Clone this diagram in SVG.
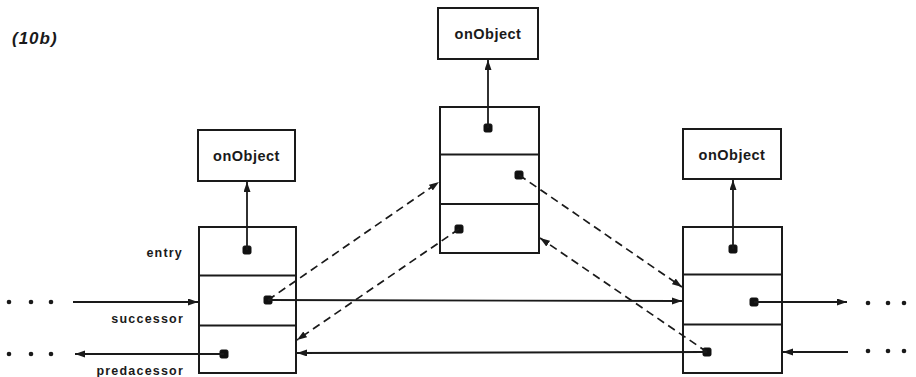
<svg xmlns="http://www.w3.org/2000/svg" width="916" height="377" viewBox="0 0 916 377">
<style>
.box{fill:#fff;stroke:#1a1a1a;stroke-width:2}
.div{stroke:#1a1a1a;stroke-width:2}
.ptr{fill:#111;stroke:#111;stroke-width:1}
.ln{stroke:#1a1a1a;stroke-width:1.8;fill:none}
.dash{stroke:#1a1a1a;stroke-width:1.7;fill:none;stroke-dasharray:8 5}
.obj{font-family:"Liberation Sans",Arial,sans-serif;font-weight:bold;font-size:14.5px;fill:#1a1a1a;text-anchor:middle;letter-spacing:0.5px}
.lbl{font-family:"Liberation Sans",Arial,sans-serif;font-weight:bold;font-size:12.5px;fill:#1a1a1a;text-anchor:end;letter-spacing:1.2px}
.title{font-family:"Liberation Sans",Arial,sans-serif;font-weight:bold;font-style:italic;font-size:17px;fill:#1a1a1a;letter-spacing:1px}
.dot{fill:#1a1a1a}
</style>
<defs>
<marker id="ah" markerUnits="userSpaceOnUse" markerWidth="11" markerHeight="8" refX="10" refY="3.5" orient="auto">
<path d="M0,0 L10,3.5 L0,7 z" fill="#1a1a1a"/>
</marker>
</defs>
<rect width="916" height="377" fill="#fff"/>
<text class="title" x="12" y="44">(10b)</text>

<g id="obj-left">
<rect class="box" x="198" y="130" width="97" height="51"/>
<text class="obj" x="246.5" y="161">onObject</text>
</g>
<g id="obj-mid">
<rect class="box" x="438" y="8" width="100" height="51"/>
<text class="obj" x="488" y="39">onObject</text>
</g>
<g id="obj-right">
<rect class="box" x="683" y="129" width="98" height="50"/>
<text class="obj" x="732" y="160">onObject</text>
</g>

<g id="node-left">
<rect class="box" x="199" y="227" width="97" height="146"/>
<line class="div" x1="199" y1="275.5" x2="296" y2="275.5"/>
<line class="div" x1="199" y1="325.5" x2="296" y2="325.5"/>
<rect class="ptr" x="243" y="246" width="8" height="8" rx="1.5"/>
<rect class="ptr" x="264" y="296" width="8" height="8" rx="1.5"/>
<rect class="ptr" x="220" y="350" width="8" height="8" rx="1.5"/>
</g>
<g id="node-mid">
<rect class="box" x="440" y="107" width="99" height="146"/>
<line class="div" x1="440" y1="154.5" x2="539" y2="154.5"/>
<line class="div" x1="440" y1="204" x2="539" y2="204"/>
<rect class="ptr" x="484" y="124" width="8" height="8" rx="1.5"/>
<rect class="ptr" x="515" y="171" width="8" height="8" rx="1.5"/>
<rect class="ptr" x="455" y="225" width="8" height="8" rx="1.5"/>
</g>
<g id="node-right">
<rect class="box" x="683" y="227" width="99" height="146"/>
<line class="div" x1="683" y1="274.5" x2="782" y2="274.5"/>
<line class="div" x1="683" y1="324.5" x2="782" y2="324.5"/>
<rect class="ptr" x="729" y="245" width="8" height="8" rx="1.5"/>
<rect class="ptr" x="750" y="298" width="8" height="8" rx="1.5"/>
<rect class="ptr" x="703" y="348" width="8" height="8" rx="1.5"/>
</g>

<g id="labels">
<text class="lbl" x="183" y="257">entry</text>
<text class="lbl" x="184" y="323">successor</text>
<text class="lbl" x="184" y="375">predacessor</text>
</g>

<g id="ellipses">
<circle class="dot" cx="9" cy="302" r="2.3"/>
<circle class="dot" cx="31" cy="302" r="2.3"/>
<circle class="dot" cx="51" cy="302" r="2.3"/>
<circle class="dot" cx="9" cy="354" r="2.3"/>
<circle class="dot" cx="31" cy="354" r="2.3"/>
<circle class="dot" cx="51" cy="354" r="2.3"/>
<circle class="dot" cx="868" cy="303" r="2.3"/>
<circle class="dot" cx="888" cy="303" r="2.3"/>
<circle class="dot" cx="904" cy="303" r="2.3"/>
<circle class="dot" cx="868" cy="351" r="2.3"/>
<circle class="dot" cx="888" cy="351" r="2.3"/>
<circle class="dot" cx="904" cy="351" r="2.3"/>
</g>

<g id="connectors">
<line class="ln" x1="247" y1="250" x2="247" y2="182" marker-end="url(#ah)"/>
<line class="ln" x1="488" y1="128" x2="488" y2="60" marker-end="url(#ah)"/>
<line class="ln" x1="733" y1="249" x2="733" y2="180" marker-end="url(#ah)"/>
<line class="ln" x1="73" y1="302" x2="198" y2="302" marker-end="url(#ah)"/>
<line class="ln" x1="268" y1="300" x2="682" y2="301" marker-end="url(#ah)"/>
<line class="ln" x1="224" y1="354" x2="75" y2="354" marker-end="url(#ah)"/>
<line class="ln" x1="707" y1="352" x2="297" y2="353" marker-end="url(#ah)"/>
<line class="ln" x1="754" y1="302" x2="847" y2="302" marker-end="url(#ah)"/>
<line class="ln" x1="848" y1="352" x2="783" y2="352" marker-end="url(#ah)"/>
<line class="dash" x1="268" y1="300" x2="439" y2="182" marker-end="url(#ah)"/>
<line class="dash" x1="459" y1="229" x2="297" y2="340" marker-end="url(#ah)"/>
<line class="dash" x1="519" y1="175" x2="682" y2="287" marker-end="url(#ah)"/>
<line class="dash" x1="707" y1="352" x2="540" y2="238" marker-end="url(#ah)"/>
</g>
</svg>
